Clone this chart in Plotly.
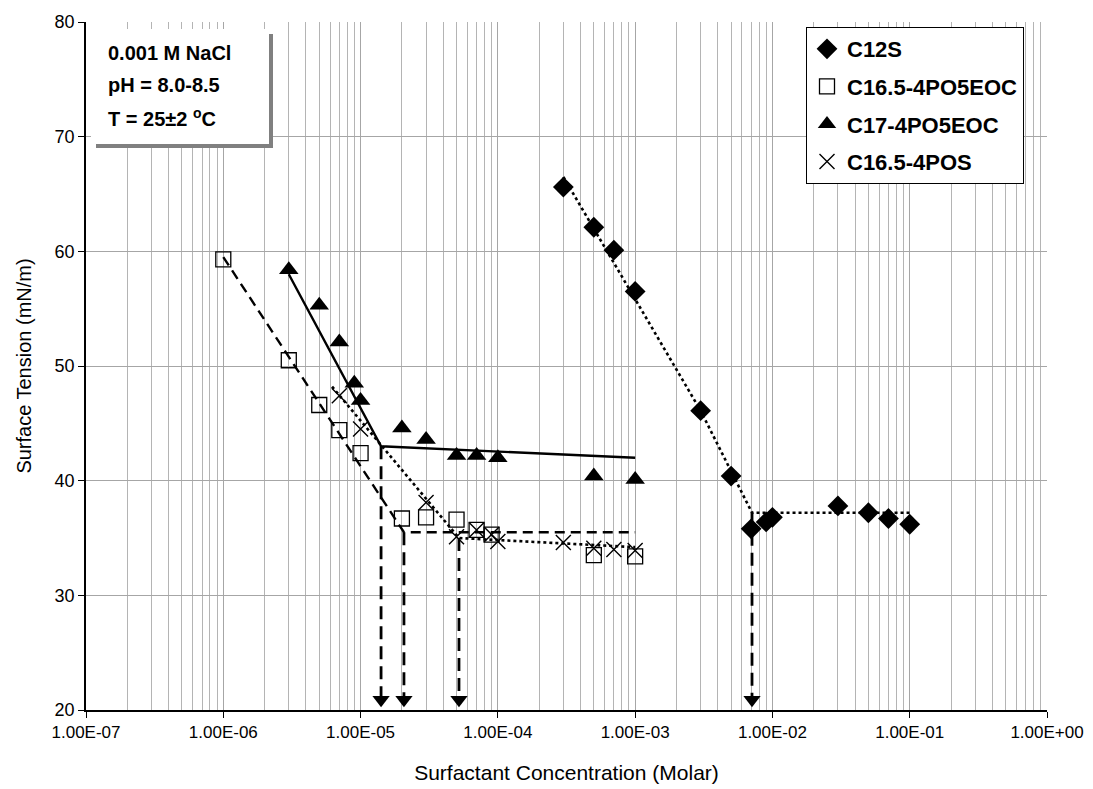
import plotly.graph_objects as go

# ---- measured data -------------------------------------------------------
c12s_conc = [3e-4, 5e-4, 7e-4, 1e-3, 3e-3, 5e-3, 7e-3, 9e-3, 1e-2, 3e-2, 5e-2, 7e-2, 1e-1]
c12s_st = [65.6, 62.1, 60.1, 56.5, 46.1, 40.4, 35.8, 36.4, 36.8, 37.8, 37.2, 36.7, 36.2]

c165eoc_conc = [1e-6, 3e-6, 5e-6, 7e-6, 1e-5, 2e-5, 3e-5, 5e-5, 7e-5, 9e-5, 5e-4, 1e-3]
c165eoc_st = [59.3, 50.5, 46.6, 44.4, 42.4, 36.7, 36.8, 36.6, 35.7, 35.3, 33.5, 33.4]

c17_conc = [3e-6, 5e-6, 7e-6, 9e-6, 1e-5, 2e-5, 3e-5, 5e-5, 7e-5, 1e-4, 5e-4, 1e-3]
c17_st = [58.4, 55.3, 52.1, 48.5, 47.0, 44.6, 43.6, 42.2, 42.2, 42.0, 40.4, 40.1]

c165pos_conc = [7e-6, 1e-5, 3e-5, 5e-5, 7e-5, 9e-5, 1e-4, 3e-4, 5e-4, 7e-4, 1e-3]
c165pos_st = [47.4, 44.5, 38.1, 35.1, 35.7, 35.3, 34.7, 34.6, 34.1, 34.0, 33.9]

# ---- fitted trend segments (pre-CMC slope, break point, plateau) ----------
c12s_fit_x = [3e-4, 3e-3, 7.1e-3, 1e-1]
c12s_fit_y = [66.5, 46.1, 37.2, 37.2]

c165eoc_fit_x = [1e-6, 2.07e-5, 1e-3]
c165eoc_fit_y = [59.5, 35.5, 35.5]

c17_fit_x = [3e-6, 1.41e-5, 1e-3]
c17_fit_y = [58.0, 43.0, 42.0]

c165pos_fit_x = [6.2e-6, 5.21e-5, 1e-3]
c165pos_fit_y = [48.2, 35.0, 34.2]

# CMC markers: concentration and the tension where the arrow starts
cmc_conc = [1.41e-5, 2.07e-5, 5.21e-5, 7.1e-3]
cmc_start = [43.0, 35.5, 35.0, 37.2]

x_tick_vals = [1e-7, 1e-6, 1e-5, 1e-4, 1e-3, 1e-2, 1e-1, 1e0]
x_tick_text = ["1.00E-07", "1.00E-06", "1.00E-05", "1.00E-04",
               "1.00E-03", "1.00E-02", "1.00E-01", "1.00E+00"]
y_min, y_max = 20, 80

FONT = "Arial, Liberation Sans, sans-serif"
INK = "black"

fig = go.Figure()

# trend lines
fig.add_trace(go.Scatter(x=c12s_fit_x, y=c12s_fit_y, mode="lines", showlegend=False,
                         line=dict(color=INK, width=2.6, dash="dot"), hoverinfo="skip"))
fig.add_trace(go.Scatter(x=c165eoc_fit_x, y=c165eoc_fit_y, mode="lines", showlegend=False,
                         line=dict(color=INK, width=2.4, dash="10px,6px"), hoverinfo="skip"))
fig.add_trace(go.Scatter(x=c17_fit_x, y=c17_fit_y, mode="lines", showlegend=False,
                         line=dict(color=INK, width=2.4), hoverinfo="skip"))
fig.add_trace(go.Scatter(x=c165pos_fit_x, y=c165pos_fit_y, mode="lines", showlegend=False,
                         line=dict(color=INK, width=2.6, dash="dot"), hoverinfo="skip"))

# dashed arrows dropping from each break point to the concentration axis
for xc, ys in zip(cmc_conc, cmc_start):
    fig.add_trace(go.Scatter(x=[xc, xc], y=[ys, y_min + 0.9], mode="lines", showlegend=False,
                             line=dict(color=INK, width=2.8, dash="13px,7px"), hoverinfo="skip"))
    fig.add_trace(go.Scatter(x=[xc], y=[y_min + 0.9], mode="markers", showlegend=False,
                             marker=dict(symbol="triangle-down", size=15, color=INK),
                             hoverinfo="skip"))

# data points
fig.add_trace(go.Scatter(x=c12s_conc, y=c12s_st, mode="markers", name="<b>C12S</b>",
                         legendgroup="a",
                         marker=dict(symbol="diamond", size=16, color=INK)))
fig.add_trace(go.Scatter(x=c165eoc_conc, y=c165eoc_st, mode="markers",
                         name="<b>C16.5-4PO5EOC</b>", legendgroup="b",
                         marker=dict(symbol="square-open", size=15, color=INK,
                                     line=dict(width=1.3, color=INK))))
fig.add_trace(go.Scatter(x=c17_conc, y=c17_st, mode="markers", name="<b>C17-4PO5EOC</b>",
                         legendgroup="c",
                         marker=dict(symbol="triangle-up", size=17, color=INK)))
fig.add_trace(go.Scatter(x=c165pos_conc, y=c165pos_st, mode="markers",
                         name="<b>C16.5-4POS</b>", legendgroup="d",
                         marker=dict(symbol="x-thin-open", size=15, color=INK,
                                     line=dict(width=1.4, color=INK))))

# conditions box with drop shadow
PL, PR, PT, PB = 86, 1047, 22, 710
def px_x(p):
    return (p - PL) / (PR - PL)
def px_y(p):
    return (PB - p) / (PB - PT)

fig.add_shape(type="rect", xref="paper", yref="paper",
              x0=px_x(96), x1=px_x(273), y0=px_y(148), y1=px_y(34),
              fillcolor="#808080", line=dict(width=0), layer="above")
fig.add_shape(type="rect", xref="paper", yref="paper",
              x0=px_x(91), x1=px_x(269), y0=px_y(144), y1=px_y(29),
              fillcolor="white", line=dict(width=0), layer="above")

cond_lines = ["0.001 M NaCl", "pH = 8.0-8.5", "T = 25±2 <sup>o</sup>C"]
for i, txt in enumerate(cond_lines):
    fig.add_annotation(xref="paper", yref="paper", x=px_x(106), y=px_y(53 + 32 * i),
                       xanchor="left", yanchor="middle", showarrow=False,
                       text="<b>" + txt + "</b>",
                       font=dict(family=FONT, size=20, color=INK))

fig.update_layout(
    width=1093, height=789,
    margin=dict(l=PL, r=1093 - PR, t=PT, b=789 - PB, autoexpand=False),
    paper_bgcolor="white", plot_bgcolor="white",
    font=dict(family=FONT, color=INK),
    legend=dict(x=px_x(806), y=px_y(27), xanchor="left", yanchor="top",
                bgcolor="white", bordercolor=INK, borderwidth=1,
                font=dict(family=FONT, size=22, color=INK),
                tracegroupgap=6, traceorder="grouped"),
    xaxis=dict(type="log", range=[-7, 0], tickvals=x_tick_vals, ticktext=x_tick_text,
               ticks="outside", ticklen=6, tickcolor=INK, automargin=False,
               showline=True, linecolor=INK, linewidth=1.5,
               showgrid=True, gridcolor="#a6a6a6", gridwidth=1,
               minor=dict(dtick="D1", showgrid=True, gridcolor="#b4b4b4", gridwidth=1),
               tickfont=dict(size=17, color=INK),
               title=dict(text="Surfactant Concentration (Molar)", font=dict(size=21),
                          standoff=24),
               zeroline=False),
    yaxis=dict(range=[y_min, y_max], dtick=10, ticks="outside", ticklen=6, tickcolor=INK,
               showline=True, linecolor=INK, linewidth=1.5, automargin=False,
               showgrid=True, gridcolor="#a6a6a6", gridwidth=1,
               tickfont=dict(size=18, color=INK),
               title=dict(text="Surface Tension (mN/m)", font=dict(size=20), standoff=18),
               zeroline=False),
)

fig.write_html("out.html")
